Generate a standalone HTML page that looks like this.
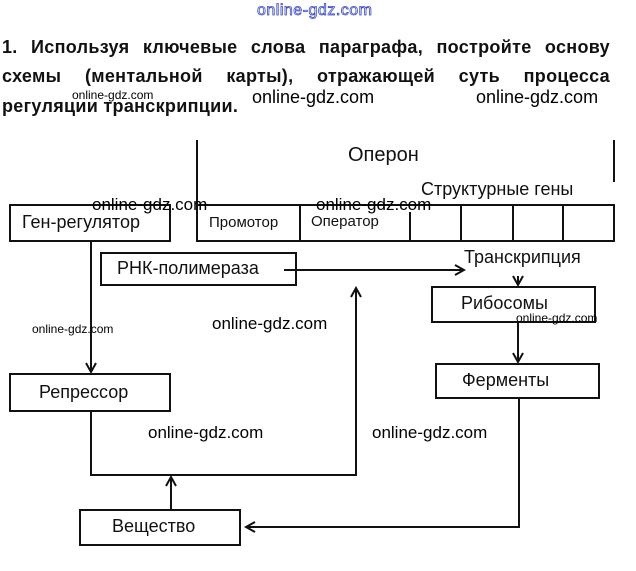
<!DOCTYPE html>
<html><head><meta charset="utf-8"><style>
body{margin:0;width:636px;height:571px;background:#fff;position:relative;overflow:hidden;font-family:"Liberation Sans","DejaVu Sans",sans-serif;color:#111}
.a{position:absolute;white-space:nowrap}
.t{position:absolute;left:2px;width:608px;font-weight:bold;font-size:18px;text-align:justify;text-align-last:justify;letter-spacing:0.3px;white-space:nowrap;font-family:"Liberation Sans",sans-serif}
.w{position:absolute;white-space:nowrap;color:#000}
</style></head><body>
<div class="a" style="left:257px;top:2px;font-size:16px;color:#fff;-webkit-text-stroke:0.8px #3a48c8;letter-spacing:0.5px">online-gdz.com</div>
<div class="t" style="top:37px;white-space:normal">1. Используя ключевые слова параграфа, постройте основу</div>
<div class="t" style="top:66px;white-space:normal">схемы (ментальной карты), отражающей суть процесса</div>
<div class="t" style="top:96px;text-align-last:left;width:auto">регуляции транскрипции.</div>
<div class="w" style="left:72px;top:88px;font-size:12px">online-gdz.com</div>
<div class="w" style="left:252px;top:87px;font-size:18px">online-gdz.com</div>
<div class="w" style="left:476px;top:87px;font-size:18px">online-gdz.com</div>

<svg width="636" height="571" style="position:absolute;left:0;top:0" fill="none" stroke="#111" stroke-width="2">
<defs><marker id="m" markerWidth="12" markerHeight="12" refX="10" refY="6" orient="auto" markerUnits="userSpaceOnUse"><path d="M1,1 L10,6 L1,11" stroke="#111" stroke-width="2" fill="none"/></marker></defs>
<line x1="197" y1="140" x2="197" y2="241"/>
<line x1="614" y1="140" x2="614" y2="182"/>
<line x1="410" y1="212" x2="410" y2="241"/>
<rect x="10" y="205" width="160" height="36"/>
<rect x="197" y="205" width="417" height="36"/>
<line x1="300" y1="205" x2="300" y2="241"/>
<line x1="461" y1="205" x2="461" y2="241"/>
<line x1="513" y1="205" x2="513" y2="241"/>
<line x1="563" y1="205" x2="563" y2="241"/>
<rect x="101" y="253" width="195" height="32"/>
<rect x="432" y="287" width="163" height="35"/>
<rect x="436" y="364" width="163" height="34"/>
<rect x="10" y="374" width="160" height="37"/>
<rect x="80" y="510" width="160" height="35"/>
<line x1="91" y1="241" x2="91" y2="372" marker-end="url(#m)"/>
<line x1="284" y1="270" x2="464" y2="270" marker-end="url(#m)"/>
<line x1="518" y1="276" x2="518" y2="285" marker-end="url(#m)"/>
<line x1="518" y1="322" x2="518" y2="362" marker-end="url(#m)"/>
<polyline points="91,411 91,475 357,475"/>
<line x1="356" y1="475" x2="356" y2="288" marker-end="url(#m)"/>
<line x1="171" y1="510" x2="171" y2="477" marker-end="url(#m)"/>
<polyline points="519,398 519,527 246,527" marker-end="url(#m)"/>
</svg>

<div class="a" style="left:348px;top:144px;font-size:20px">Оперон</div>
<div class="a" style="left:421px;top:179px;font-size:18px">Структурные гены</div>
<div class="a" style="left:22px;top:212px;font-size:18px">Ген-регулятор</div>
<div class="a" style="left:209px;top:214px;font-size:15px">Промотор</div>
<div class="a" style="left:311px;top:213px;font-size:15px">Оператор</div>
<div class="a" style="left:117px;top:258px;font-size:18px">РНК-полимераза</div>
<div class="a" style="left:464px;top:247px;font-size:18px">Транскрипция</div>
<div class="a" style="left:461px;top:293px;font-size:18px">Рибосомы</div>
<div class="a" style="left:462px;top:370px;font-size:18px">Ферменты</div>
<div class="a" style="left:39px;top:382px;font-size:18px">Репрессор</div>
<div class="a" style="left:112px;top:516px;font-size:18px">Вещество</div>

<div class="w" style="left:92px;top:195px;font-size:17px">online-gdz.com</div>
<div class="w" style="left:316px;top:195px;font-size:17px">online-gdz.com</div>
<div class="w" style="left:212px;top:314px;font-size:17px">online-gdz.com</div>
<div class="w" style="left:32px;top:322px;font-size:12px">online-gdz.com</div>
<div class="w" style="left:516px;top:311px;font-size:12px">online-gdz.com</div>
<div class="w" style="left:148px;top:423px;font-size:17px">online-gdz.com</div>
<div class="w" style="left:372px;top:423px;font-size:17px">online-gdz.com</div>
</body></html>
